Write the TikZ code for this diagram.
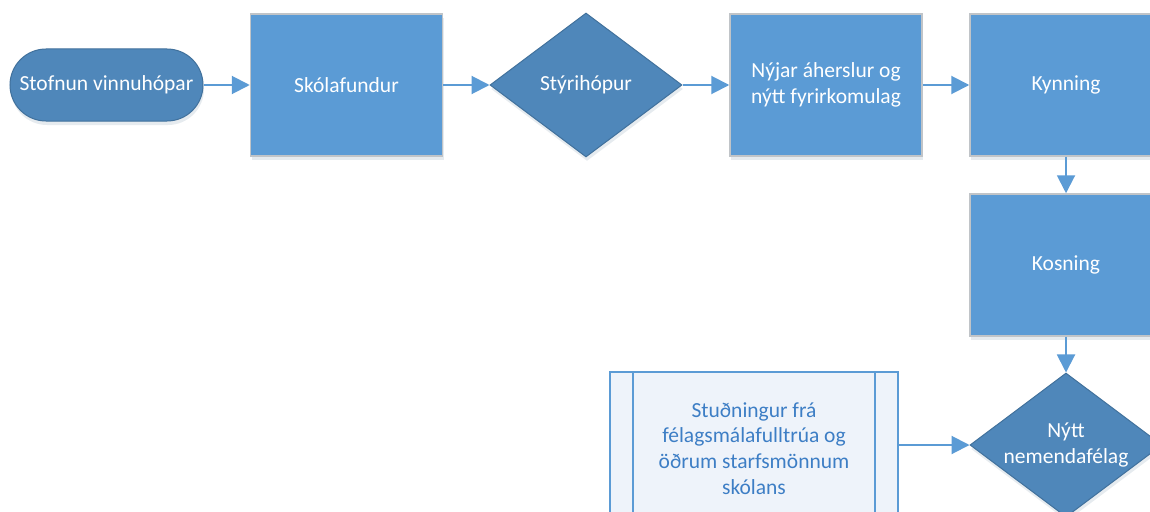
\documentclass[tikz,border=0pt]{standalone}
\usepackage{fontspec}
\setmainfont{Carlito}
\usetikzlibrary{arrows.meta,shapes.geometric,shadows}
\definecolor{boxblue}{HTML}{5B9BD5}
\definecolor{darkblue}{HTML}{4F87BA}
\definecolor{darkedge}{HTML}{41719C}
\definecolor{grayedge}{HTML}{C0C4C8}
\definecolor{subfill}{HTML}{EEF3FA}
\definecolor{subtext}{HTML}{3D7EC5}
\newcommand{\lblfont}{\fontsize{21.5}{25.7}\selectfont}
\tikzset{
  soft/.style={drop shadow={shadow xshift=1pt,shadow yshift=-4pt,opacity=.12,fill=boxblue!60!black}},
  procbox/.style={rectangle,draw=grayedge,line width=1.5pt,fill=boxblue,text=white,
    minimum width=192pt,minimum height=142pt,inner sep=0pt,align=center,font=\lblfont,soft},
  termbox/.style={rectangle,rounded corners=36pt,draw=darkedge,line width=1pt,fill=darkblue,text=white,
    minimum width=193pt,minimum height=72pt,inner sep=0pt,font=\lblfont,soft},
  decbox/.style={diamond,draw=darkedge,line width=1pt,fill=darkblue,
    minimum width=192pt,minimum height=144pt,inner sep=0pt,soft},
  declabel/.style={text=white,align=center,font=\lblfont,inner sep=0pt},
  subbox/.style={rectangle,draw=boxblue,line width=2pt,fill=subfill,
    minimum width=288pt,minimum height=146pt,inner sep=0pt},
  flow/.style={draw=boxblue,line width=2pt,-{Triangle[length=18pt,width=18pt]}},
}
\begin{document}
\begin{tikzpicture}[x=1pt,y=-1pt]
\useasboundingbox (0,0) rectangle (1150,511);
\clip (0,0) rectangle (1150,511);
\fill[white] (0,0) rectangle (1150,511);
\node[termbox] (start) at (106.5,85) {Stofnun vinnuhópar};
\node[procbox] (skola) at (346.5,85) {Skólafundur};
\node[decbox] (styri) at (586,85) {};
\node[declabel] (styrilbl) at (styri.center) {Stýrihópur};
\node[procbox] (nyjar) at (826,85) {Nýjar áherslur og\\nýtt fyrirkomulag};
\node[procbox] (kynn) at (1066,85) {Kynning};
\node[procbox] (kosn) at (1066,265) {Kosning};
\node[decbox] (nytt) at (1066,445) {};
\node[declabel] (nyttlbl) at (nytt.center) {Nýtt\\nemendafélag};
\node[subbox] (stud) at (754,445) {};
\draw[boxblue,line width=1.5pt] ([xshift=24pt]stud.north west) -- ([xshift=24pt]stud.south west);
\draw[boxblue,line width=1.5pt] ([xshift=-24pt]stud.north east) -- ([xshift=-24pt]stud.south east);
\node[text=subtext,align=center,font=\lblfont] (studtext) at (754,448.5)
  {Stuðningur frá\\félagsmálafulltrúa og\\öðrum starfsmönnum\\skólans};
\draw[flow] (start) -- (skola);
\draw[flow] (skola) -- (styri);
\draw[flow] (styri) -- (nyjar);
\draw[flow] (nyjar) -- (kynn);
\draw[flow] (kynn) -- (kosn);
\draw[flow] (kosn) -- (nytt);
\draw[flow] (stud) -- (nytt);
\end{tikzpicture}
\end{document}
